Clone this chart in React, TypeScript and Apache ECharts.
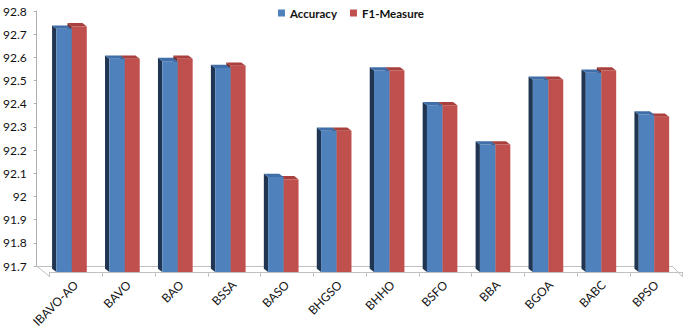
import React, { useEffect, useRef } from "react";
import * as echarts from "echarts";

const categories = ["IBAVO-AO", "BAVO", "BAO", "BSSA", "BASO", "BHGSO", "BHHO", "BSFO", "BBA", "BGOA", "BABC", "BPSO"];
const accuracy = [92.74, 92.61, 92.60, 92.57, 92.10, 92.30, 92.56, 92.41, 92.24, 92.52, 92.55, 92.37];
const f1Measure = [92.75, 92.61, 92.61, 92.58, 92.09, 92.30, 92.56, 92.41, 92.24, 92.52, 92.56, 92.36];
const yMin = 91.7;
const yMax = 92.8;
const yStep = 0.1;

const FONT = "Lato, 'Open Sans', sans-serif";
const DX = 4.3;
const DY = 3.3;

function barRenderer(offsetL: number, offsetR: number, front: string, side: string, cap: string) {
  return (params: any, api: any) => {
    const i = api.value(0);
    const v = api.value(1);
    const top = api.coord([i, v]);
    const base = api.coord([i, yMin]);
    const x0 = top[0] + offsetL;
    const x1 = top[0] + offsetR;
    const yF = top[1] + DY + 0.5;
    const yB = base[1] + 6;
    return {
      type: "group",
      children: [
        {
          type: "polygon",
          shape: { points: [[x0, yF], [x0 - DX, yF - DY], [x0 - DX, yB - DY], [x0, yB]] },
          style: { fill: side },
        },
        {
          type: "rect",
          shape: { x: x0, y: yF, width: x1 - x0, height: yB - yF },
          style: { fill: front },
        },
        {
          type: "polygon",
          shape: { points: [[x0, yF], [x1, yF], [x1 - DX, yF - DY], [x0 - DX, yF - DY]] },
          style: { fill: cap },
        },
      ],
    };
  };
}

export default function App() {
  const ref = useRef<HTMLDivElement>(null);
  useEffect(() => {
    if (!ref.current) return;
    const chart = echarts.init(ref.current, undefined, { renderer: "svg" });
    const n = categories.length;
    chart.setOption({
      animation: false,
      backgroundColor: "#ffffff",
      legend: {
        data: [
          { name: "Accuracy", icon: "rect" },
          { name: "F1-Measure", icon: "rect" },
        ],
        left: 273,
        top: 2,
        itemWidth: 7,
        itemHeight: 7,
        itemGap: 13,
        textStyle: { fontFamily: FONT, fontWeight: "bold", fontSize: 11.5, color: "#111" },
      },
      grid: [
        { left: 36, right: 13, top: 11, bottom: 64 },
        { left: 49.5, right: 2.3, top: 11, bottom: 53 },
      ],
      xAxis: [
        {
          type: "category",
          gridIndex: 0,
          data: categories,
          axisLine: { lineStyle: { color: "#c0c0c0" } },
          axisTick: { show: false },
          axisLabel: { show: false },
        },
        {
          type: "category",
          gridIndex: 1,
          data: categories,
          axisLine: { lineStyle: { color: "#c0c0c0" } },
          axisTick: { show: true, length: 4, lineStyle: { color: "#c0c0c0" } },
          axisLabel: {
            rotate: 45,
            margin: 10,
            interval: 0,
            fontFamily: FONT,
            fontSize: 12,
            color: "#111",
          },
        },
      ],
      yAxis: [
        {
          type: "value",
          gridIndex: 0,
          min: yMin,
          max: yMax,
          interval: yStep,
          splitLine: { show: false },
          axisLine: { show: true, lineStyle: { color: "#b0b0b0" } },
          axisTick: { show: true, length: 3, lineStyle: { color: "#b0b0b0" } },
          axisLabel: {
            margin: 10,
            fontFamily: FONT,
            fontSize: 12,
            color: "#111",
            formatter: (val: number) => String(+val.toFixed(1)),
          },
        },
        { type: "value", gridIndex: 1, show: false, min: 0, max: 1 },
      ],
      series: [
        {
          name: "floor",
          type: "custom",
          xAxisIndex: 0,
          yAxisIndex: 0,
          silent: true,
          data: categories.map((c, i) => [i, yMin]),
          renderItem: (params: any, api: any) => {
            const i = api.value(0);
            const p = api.coord([i, yMin]);
            const half = api.size([1, 0])[0] / 2;
            if (i === 0) {
              return {
                type: "line",
                shape: { x1: p[0] - half, y1: p[1], x2: p[0] - half + 13.5, y2: p[1] + 11 },
                style: { stroke: "#c0c0c0", lineWidth: 1 },
              };
            }
            if (i === n - 1) {
              return {
                type: "line",
                shape: { x1: p[0] + half, y1: p[1], x2: p[0] + half + 10.7, y2: p[1] + 11 },
                style: { stroke: "#c0c0c0", lineWidth: 1 },
              };
            }
            return { type: "group", children: [] };
          },
        },
        {
          name: "F1-Measure",
          type: "custom",
          xAxisIndex: 0,
          yAxisIndex: 0,
          itemStyle: { color: "#c0504d" },
          data: categories.map((c, i) => [i, f1Measure[i]]),
          renderItem: barRenderer(8.6, 23.6, "#c0504d", "#7a2624", "#a9403d"),
        },
        {
          name: "Accuracy",
          type: "custom",
          xAxisIndex: 0,
          yAxisIndex: 0,
          itemStyle: { color: "#4f81bd" },
          data: categories.map((c, i) => [i, accuracy[i]]),
          renderItem: barRenderer(-6.8, 8.6, "#4f81bd", "#1f3552", "#3f6ea8"),
        },
      ],
    });
    return () => chart.dispose();
  }, []);
  return (
    <div
      ref={ref}
      style={{ position: "fixed", left: 0, top: 0, width: 685, height: 330, background: "#fff" }}
    />
  );
}
